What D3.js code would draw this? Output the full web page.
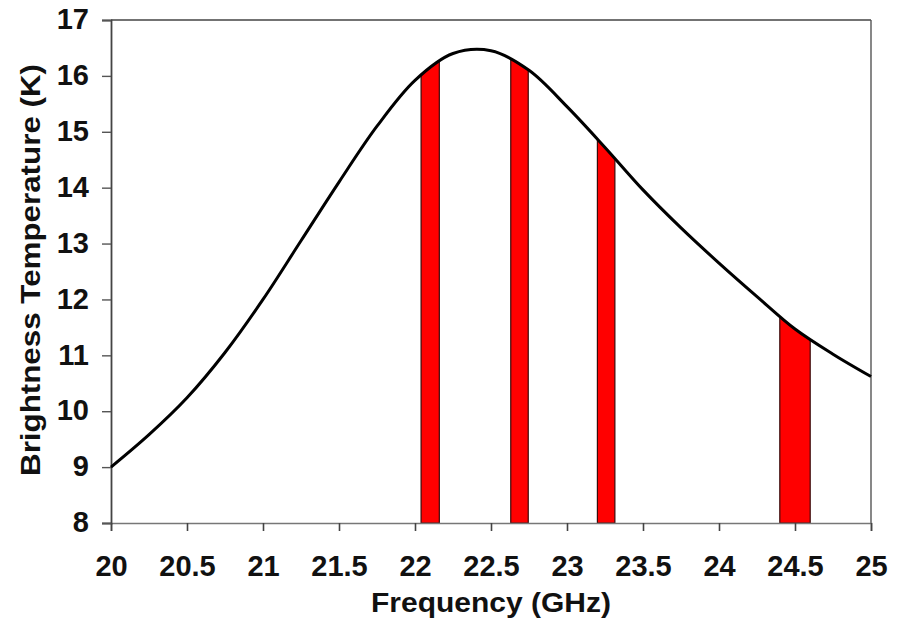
<!DOCTYPE html>
<html><head><meta charset="utf-8">
<script src="https://cdn.jsdelivr.net/npm/d3@7"></script>
<style>body{margin:0;background:#fff}svg{display:block}</style>
</head><body>
<svg id="c" width="898" height="621"></svg>
<script>
const freq = [20.00,20.25,20.50,20.75,21.00,21.25,21.50,21.75,22.00,22.25,22.50,22.75,23.00,23.25,23.50,23.75,24.00,24.25,24.50,24.75,25.00];
const temp = [9.00,9.58,10.24,11.05,12.00,13.05,14.10,15.10,15.92,16.40,16.45,16.10,15.45,14.72,13.96,13.28,12.65,12.05,11.47,11.02,10.62];
const bandStart = [22.04,22.63,23.20,24.40];
const bandEnd   = [22.16,22.745,23.315,24.60];
const xTicks = [20,20.5,21,21.5,22,22.5,23,23.5,24,24.5,25];
const yTicks = [8,9,10,11,12,13,14,15,16,17];

const svg = d3.select("#c");
const x = d3.scaleLinear().domain([20,25]).range([111,871]);
const y = d3.scaleLinear().domain([8,17]).range([523,20]);
const data = freq.map((f,i)=>({f, t: temp[i]}));
const curve = d3.curveCatmullRom.alpha(0.5);

const lineGen = d3.line().x(d=>x(d.f)).y(d=>y(d.t)).curve(curve);
const pathEl = svg.append("path").attr("d", lineGen(data)).attr("fill","none").attr("stroke","none");
const node = pathEl.node();
const L = node.getTotalLength();
const samples = [];
for (let s=0; s<=L; s+=0.5){ samples.push(node.getPointAtLength(s)); }
function yAt(px){
  let best=samples[0];
  for (const p of samples){ if (Math.abs(p.x-px) < Math.abs(best.x-px)) best=p; }
  return best.y;
}

// bands under the curve
bandStart.forEach((b,i)=>{
  const x0=x(b), x1=x(bandEnd[i]);
  const pts=[[x0,y(8)]];
  for (let px=x0; px<=x1; px+=0.5) pts.push([px,yAt(px)]);
  pts.push([x1,yAt(x1)],[x1,y(8)]);
  svg.append("path").attr("d","M"+pts.map(p=>p.join(",")).join("L")+"Z")
    .attr("fill","#ff0000").attr("stroke","#3a0a0a").attr("stroke-width",1.2);
});

// frame top/right
svg.append("line").attr("x1",x(20)).attr("x2",x(25)).attr("y1",y(17)).attr("y2",y(17)).attr("stroke","#444").attr("stroke-width",1.6);
svg.append("line").attr("x1",x(25)).attr("x2",x(25)).attr("y1",y(17)).attr("y2",y(8)).attr("stroke","#555").attr("stroke-width",1.4);

const font = "'Liberation Sans', Arial, sans-serif";
const xAxis = svg.append("g").attr("transform",`translate(0,${y(8)})`)
  .call(d3.axisBottom(x).tickValues(xTicks).tickSize(8).tickPadding(24).tickFormat(d=>String(d)));
xAxis.select(".domain").attr("stroke","#777").attr("stroke-width",1.6);
xAxis.selectAll(".tick line").attr("stroke","#444").attr("stroke-width",1.6);
xAxis.selectAll("text").attr("font-family",font).attr("font-weight","bold").attr("font-size",29).attr("fill","#111");

const yAxis = svg.append("g").attr("transform",`translate(${x(20)},0)`)
  .call(d3.axisLeft(y).tickValues(yTicks).tickSize(9).tickPadding(13).tickFormat(d=>String(d)));
yAxis.select(".domain").attr("stroke","#444").attr("stroke-width",1.8);
yAxis.selectAll(".tick line").attr("stroke","#555").attr("stroke-width",1.4);
yAxis.selectAll("text").attr("font-family",font).attr("font-weight","bold").attr("font-size",29).attr("fill","#111").attr("dy","0.3em");

// curve
svg.append("path").attr("d", lineGen(data)).attr("fill","none").attr("stroke","#000").attr("stroke-width",3);

// titles
svg.append("text").attr("x",491).attr("y",612).attr("text-anchor","middle")
  .attr("font-family",font).attr("font-weight","bold").attr("font-size",28).attr("fill","#111")
  .attr("textLength",240).attr("lengthAdjust","spacingAndGlyphs")
  .text("Frequency (GHz)");
svg.append("text").attr("transform","translate(40,270) rotate(-90)").attr("text-anchor","middle")
  .attr("font-family",font).attr("font-weight","bold").attr("font-size",27).attr("fill","#111")
  .attr("textLength",412).attr("lengthAdjust","spacingAndGlyphs")
  .text("Brightness Temperature (K)");
</script>
</body></html>
